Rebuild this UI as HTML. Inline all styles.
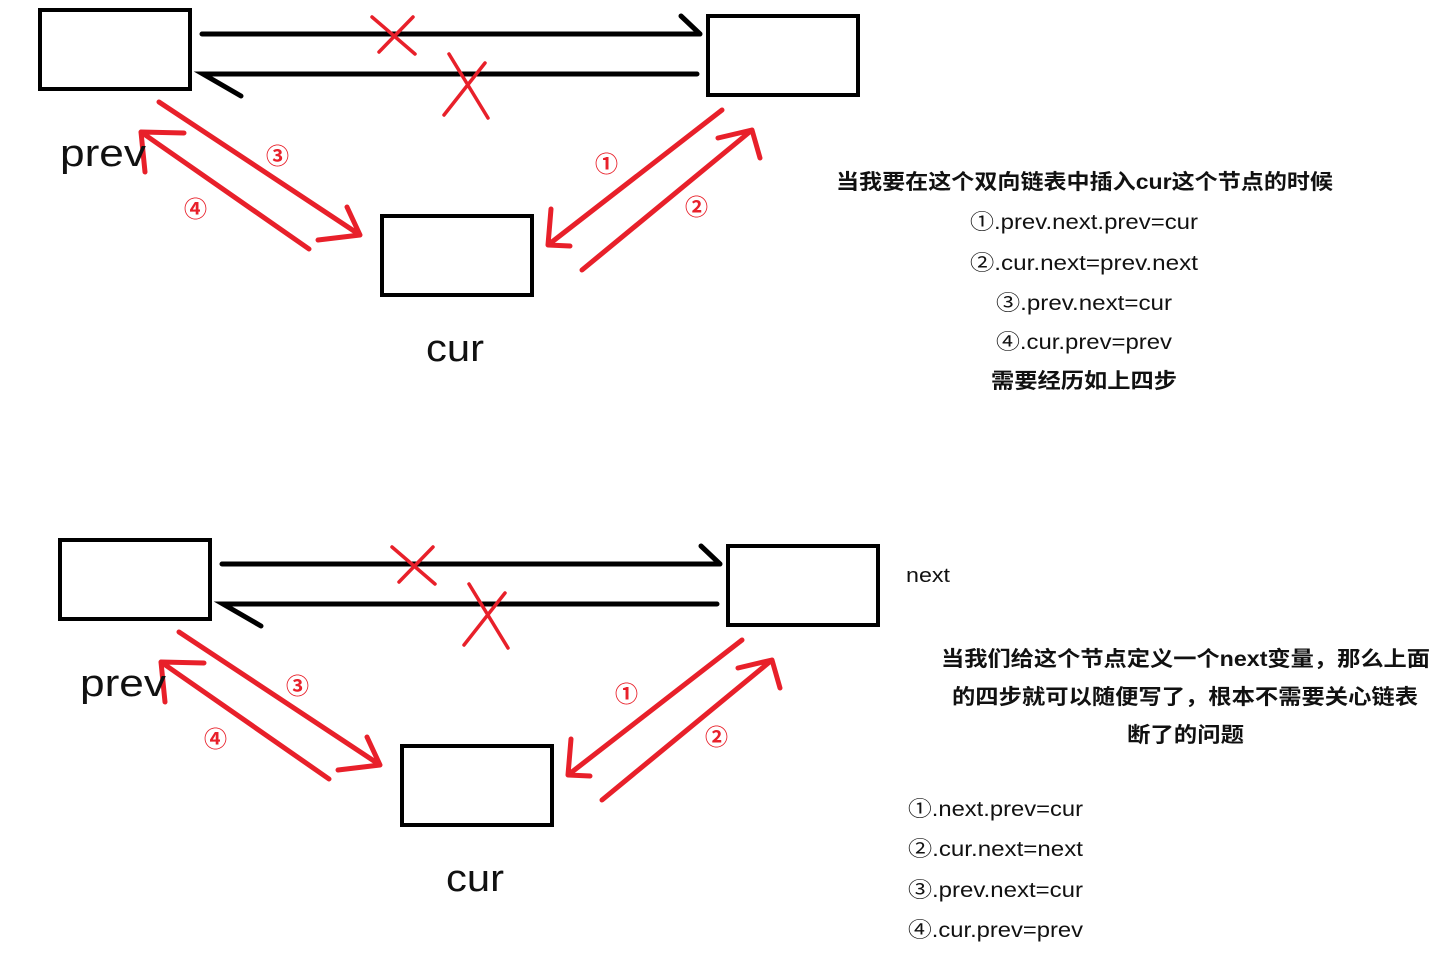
<!DOCTYPE html>
<html><head><meta charset="utf-8"><style>
html,body{margin:0;padding:0;background:#fff;width:1440px;height:953px;overflow:hidden}
svg{display:block}
.t{font-family:"Liberation Sans","Noto Sans CJK SC",sans-serif;fill:#111}
.b{font-weight:bold}
</style></head><body>
<svg width="1440" height="953" viewBox="0 0 1440 953" xmlns="http://www.w3.org/2000/svg">
<g>
<g fill="none" stroke="#000" stroke-width="4">
<rect x="40" y="10" width="150" height="79"/>
<rect x="708" y="16" width="150" height="79"/>
<rect x="382" y="216" width="150" height="79"/>
</g>
<g fill="none" stroke="#000" stroke-width="5" stroke-linecap="round">
<path d="M202 34 L700 34 M681 16 L700 34"/>
<path d="M697 74 L203 74 L241 96"/>
</g>
<g fill="none" stroke="#e8202a" stroke-width="3.5" stroke-linecap="round">
<path d="M372 17 L415 54 M413 17 L379 52"/>
<path d="M449 54 L488 118 M485 63 L444 115"/>
</g>
<g fill="none" stroke="#e8202a" stroke-width="5" stroke-linecap="round" stroke-linejoin="round">
<path d="M159 102 L360 235 M347 207 L360 235 L318 240"/>
<path d="M309 249 L141 132 M184 133 L141 132 L145 172"/>
<path d="M722 110 L548 245 M551 209 L548 245 L570 246"/>
<path d="M582 270 L752 130 M718 138 L752 130 L760 158"/>
</g>
<g class="t b" style="fill:#e8202a" font-size="23">
<text x="266" y="164">③</text>
<text x="184" y="217">④</text>
<text x="595" y="172">①</text>
<text x="685" y="215">②</text>
</g>
<text class="t" x="60" y="166" font-size="38" textLength="86" lengthAdjust="spacingAndGlyphs">prev</text>
<text class="t" x="426" y="361" font-size="38" textLength="58" lengthAdjust="spacingAndGlyphs">cur</text>
</g>

<g transform="translate(20,530)">
<g fill="none" stroke="#000" stroke-width="4">
<rect x="40" y="10" width="150" height="79"/>
<rect x="708" y="16" width="150" height="79"/>
<rect x="382" y="216" width="150" height="79"/>
</g>
<g fill="none" stroke="#000" stroke-width="5" stroke-linecap="round">
<path d="M202 34 L700 34 M681 16 L700 34"/>
<path d="M697 74 L203 74 L241 96"/>
</g>
<g fill="none" stroke="#e8202a" stroke-width="3.5" stroke-linecap="round">
<path d="M372 17 L415 54 M413 17 L379 52"/>
<path d="M449 54 L488 118 M485 63 L444 115"/>
</g>
<g fill="none" stroke="#e8202a" stroke-width="5" stroke-linecap="round" stroke-linejoin="round">
<path d="M159 102 L360 235 M347 207 L360 235 L318 240"/>
<path d="M309 249 L141 132 M184 133 L141 132 L145 172"/>
<path d="M722 110 L548 245 M551 209 L548 245 L570 246"/>
<path d="M582 270 L752 130 M718 138 L752 130 L760 158"/>
</g>
<g class="t b" style="fill:#e8202a" font-size="23">
<text x="266" y="164">③</text>
<text x="184" y="217">④</text>
<text x="595" y="172">①</text>
<text x="685" y="215">②</text>
</g>
<text class="t" x="60" y="166" font-size="38" textLength="86" lengthAdjust="spacingAndGlyphs">prev</text>
<text class="t" x="426" y="361" font-size="38" textLength="58" lengthAdjust="spacingAndGlyphs">cur</text>
</g>

<g class="t" font-size="21" lengthAdjust="spacingAndGlyphs">
<text class="b" x="836" y="189" textLength="497" lengthAdjust="spacingAndGlyphs">当我要在这个双向链表中插入cur这个节点的时候</text>
<text x="970" y="229" textLength="228" lengthAdjust="spacingAndGlyphs">①.prev.next.prev=cur</text>
<text x="970" y="270" textLength="228" lengthAdjust="spacingAndGlyphs">②.cur.next=prev.next</text>
<text x="996" y="310" textLength="176" lengthAdjust="spacingAndGlyphs">③.prev.next=cur</text>
<text x="996" y="349" textLength="176" lengthAdjust="spacingAndGlyphs">④.cur.prev=prev</text>
<text class="b" x="991" y="388" textLength="186" lengthAdjust="spacingAndGlyphs">需要经历如上四步</text>
<text class="b" x="941" y="666" textLength="489" lengthAdjust="spacingAndGlyphs">当我们给这个节点定义一个next变量，那么上面</text>
<text class="b" x="952" y="704" textLength="466" lengthAdjust="spacingAndGlyphs">的四步就可以随便写了，根本不需要关心链表</text>
<text class="b" x="1127" y="742" textLength="117" lengthAdjust="spacingAndGlyphs">断了的问题</text>
<text x="906" y="582" font-size="20" textLength="44" lengthAdjust="spacingAndGlyphs">next</text>
<text x="908" y="816" textLength="175" lengthAdjust="spacingAndGlyphs">①.next.prev=cur</text>
<text x="908" y="856" textLength="175" lengthAdjust="spacingAndGlyphs">②.cur.next=next</text>
<text x="908" y="897" textLength="175" lengthAdjust="spacingAndGlyphs">③.prev.next=cur</text>
<text x="908" y="937" textLength="175" lengthAdjust="spacingAndGlyphs">④.cur.prev=prev</text>
</g>
</svg>
</body></html>
